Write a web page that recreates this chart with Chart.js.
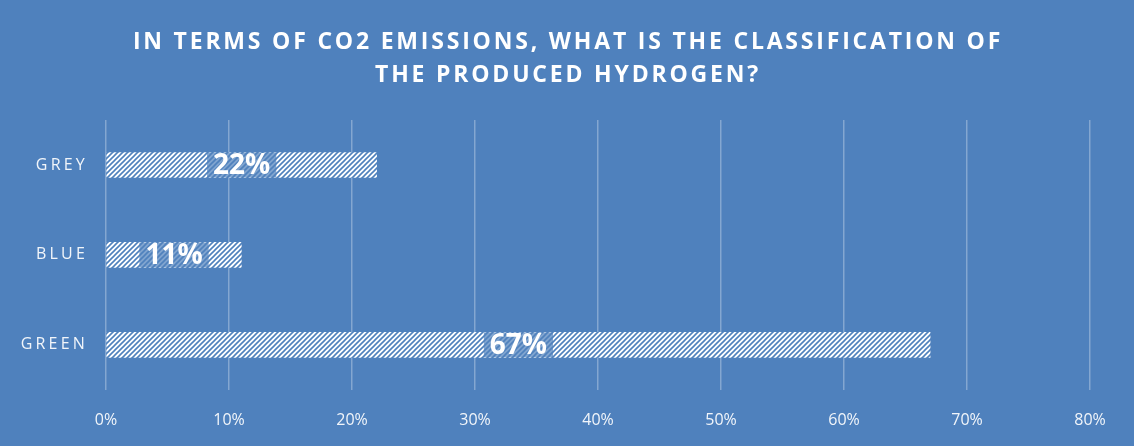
<!DOCTYPE html>
<html>
<head>
<meta charset="utf-8">
<script src="https://cdn.jsdelivr.net/npm/chart.js@4/dist/chart.umd.min.js"></script>
<style>
    html, body { margin: 0; padding: 0; background: #4f81bd; }
    #wrap { width: 1134px; height: 446px; }
</style>
</head>
<body>
<div id="wrap"><canvas id="chart" width="1134" height="446"></canvas></div>
<script>
// Chart data
const categories = ['GREY', 'BLUE', 'GREEN'];
const shares = [22, 11, 67];
const tickValues = [0, 10, 20, 30, 40, 50, 60, 70, 80];
const titleLines = ['IN TERMS OF CO2 EMISSIONS, WHAT IS THE CLASSIFICATION OF', 'THE PRODUCED HYDROGEN?'];

const BG = '#4f81bd';

/**
 * Build the white diagonal hatch used for the bars
 */
function makeHatch() {
    const size = 5;
    const c = document.createElement('canvas');
    c.width = size;
    c.height = size;
    const g = c.getContext('2d');
    g.fillStyle = '#ffffff';
    g.fillRect(0, 0, size, size);
    g.strokeStyle = BG;
    g.lineWidth = 1.6;
    g.beginPath();
    g.moveTo(-1, size + 1); g.lineTo(size + 1, -1);
    g.moveTo(-1, 1); g.lineTo(1, -1);
    g.moveTo(size - 1, size + 1); g.lineTo(size + 1, size - 1);
    g.stroke();
    return g.createPattern(c, 'repeat');
}

// Title, category labels and value boxes drawn by hand (letter spacing)
const decorPlugin = {
    id: 'decor',
    beforeDraw(chart) {
        const ctx = chart.ctx;
        ctx.save();
        ctx.fillStyle = BG;
        ctx.fillRect(0, 0, chart.width, chart.height);
        ctx.restore();
    },
    afterDatasetsDraw(chart) {
        const ctx = chart.ctx;
        const meta = chart.getDatasetMeta(0);
        const yScale = chart.scales.y;

        ctx.save();
        // title
        ctx.fillStyle = '#ffffff';
        ctx.font = 'bold 23px "Open Sans"';
        ctx.letterSpacing = '2.8px';
        ctx.textAlign = 'center';
        ctx.textBaseline = 'middle';
        titleLines.forEach(function(line, i) {
            ctx.fillText(line, chart.width / 2 + 1, 42 + i * 33);
        });

        // category labels
        ctx.font = '16px "Open Sans"';
        ctx.letterSpacing = '3.2px';
        ctx.textAlign = 'right';
        ctx.fillStyle = 'rgba(255,255,255,0.92)';
        categories.forEach(function(cat, i) {
            ctx.fillText(cat, 88, yScale.getPixelForValue(i));
        });

        // value labels
        ctx.letterSpacing = '0px';
        ctx.font = 'bold 28px "Open Sans"';
        ctx.textAlign = 'center';
        meta.data.forEach(function(bar, i) {
            const text = shares[i] + '%';
            const cx = (bar.x + bar.base) / 2;
            const w = ctx.measureText(text).width + 12;
            const h = bar.height;
            ctx.fillStyle = 'rgba(79,129,189,0.72)';
            ctx.fillRect(cx - w / 2, bar.y - h / 2, w, h);
            ctx.fillStyle = '#ffffff';
            ctx.fillText(text, cx, bar.y + 1);
        });
        ctx.restore();
    }
};

new Chart(document.getElementById('chart'), {
    type: 'bar',
    data: {
        labels: categories,
        datasets: [{
            data: shares,
            backgroundColor: makeHatch(),
            borderWidth: 0,
            barThickness: 25
        }]
    },
    options: {
        indexAxis: 'y',
        responsive: false,
        animation: false,
        layout: {
            padding: { left: 106, right: 44, top: 120, bottom: -5 }
        },
        scales: {
            x: {
                min: 0,
                max: 80,
                afterBuildTicks: function(scale) {
                    scale.ticks = tickValues.map(v => ({ value: v }));
                },
                border: { display: false },
                grid: {
                    color: 'rgba(255,255,255,0.3)',
                    lineWidth: 1.5,
                    drawTicks: false
                },
                ticks: {
                    padding: 21,
                    color: 'rgba(255,255,255,0.92)',
                    font: { family: 'Open Sans', size: 16 },
                    callback: v => v + '%'
                }
            },
            y: {
                display: false
            }
        },
        plugins: {
            legend: { display: false },
            title: { display: false },
            tooltip: { enabled: false }
        }
    },
    plugins: [decorPlugin]
});
</script>
</body>
</html>
